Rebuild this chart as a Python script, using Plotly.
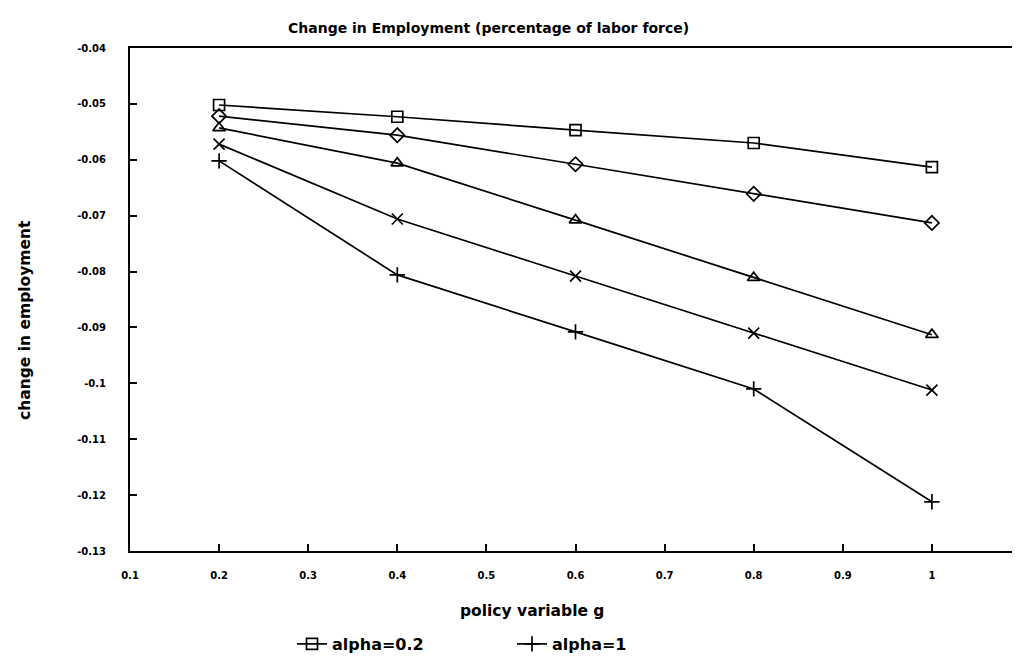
import plotly.graph_objects as go

g = [0.2, 0.4, 0.6, 0.8, 1.0]
s_a02 = [-0.0502, -0.0523, -0.0547, -0.0570, -0.0613]
s_a04 = [-0.0522, -0.0556, -0.0608, -0.0661, -0.0713]
s_a06 = [-0.0543, -0.0606, -0.0708, -0.0811, -0.0913]
s_a08 = [-0.0572, -0.0706, -0.0808, -0.0910, -0.1012]
s_a1 = [-0.0602, -0.0806, -0.0908, -0.1010, -0.1212]

series = [
    ("alpha=0.2", s_a02, "square-open", True),
    ("alpha=0.4", s_a04, "diamond-open", False),
    ("alpha=0.6", s_a06, "triangle-up-open", False),
    ("alpha=0.8", s_a08, "x-thin-open", False),
    ("alpha=1", s_a1, "cross-thin-open", True),
]

x_ticks = [0.1, 0.2, 0.3, 0.4, 0.5, 0.6, 0.7, 0.8, 0.9, 1.0, 1.1]
x_ticklabels = ["0.1", "0.2", "0.3", "0.4", "0.5", "0.6", "0.7", "0.8", "0.9", "1", "1.1"]
y_ticks = [-0.04, -0.05, -0.06, -0.07, -0.08, -0.09, -0.1, -0.11, -0.12, -0.13]
y_ticklabels = ["-0.04", "-0.05", "-0.06", "-0.07", "-0.08", "-0.09", "-0.1", "-0.11", "-0.12", "-0.13"]

title_text = "Change in Employment (percentage of labor force)"
x_title = "policy variable g"
y_title = "change in employment"

fig = go.Figure()
for name, vals, sym, show in series:
    fig.add_trace(go.Scatter(
        x=g, y=vals, name=name, mode="lines+markers",
        line=dict(color="black", width=1.7),
        marker=dict(symbol=sym, size=11, color="black", line=dict(color="black", width=1.7)),
        showlegend=show,
    ))

font = "DejaVu Sans, sans-serif"
L, R, T, B = 122, 1013, 40, 543
W, H = R - L, B - T
fig.update_layout(
    width=1020, height=658,
    margin=dict(l=L, r=1020 - R, t=T, b=658 - B, autoexpand=False),
    paper_bgcolor="white", plot_bgcolor="white",
    font=dict(family=font, color="black", size=12),
    showlegend=True,
    legend=dict(orientation="h", x=(284 - L) / W, xanchor="left", y=(B - 636) / H, yanchor="middle",
                font=dict(size=16, family=font, weight="bold"), entrywidth=175,
                bgcolor="rgba(0,0,0,0)"),
    annotations=[
        dict(text=title_text, xref="paper", yref="paper", x=(480 - L) / W, y=(B - 20) / H,
             xanchor="center", yanchor="middle", showarrow=False,
             font=dict(size=14, family=font, weight="bold")),
        dict(text=x_title, xref="paper", yref="paper", x=(524 - L) / W, y=(B - 603) / H,
             xanchor="center", yanchor="middle", showarrow=False,
             font=dict(size=15.5, family=font, weight="bold")),
        dict(text=y_title, xref="paper", yref="paper", x=(17 - L) / W, y=(B - 312) / H,
             xanchor="center", yanchor="middle", showarrow=False, textangle=-90,
             font=dict(size=15.5, family=font, weight="bold")),
    ],
)
fig.update_xaxes(
    range=[0.1, 1.1], tickvals=x_ticks, ticktext=x_ticklabels, automargin=False,
    showline=True, linecolor="black", linewidth=2, mirror=True,
    ticks="inside", ticklen=7, tickwidth=1.5, tickcolor="black",
    showgrid=False, zeroline=False, ticklabeloverflow="allow",
    tickfont=dict(size=10, family=font, weight="bold"), ticklabelstandoff=14,
)
fig.update_yaxes(
    range=[-0.13, -0.04], tickvals=y_ticks, ticktext=y_ticklabels, automargin=False,
    showline=True, linecolor="black", linewidth=2, mirror=True,
    ticks="inside", ticklen=7, tickwidth=1.5, tickcolor="black",
    showgrid=False, zeroline=False, ticklabeloverflow="allow",
    tickfont=dict(size=10, family=font, weight="bold"), ticklabelstandoff=20,
)
fig.write_html("out.html")
